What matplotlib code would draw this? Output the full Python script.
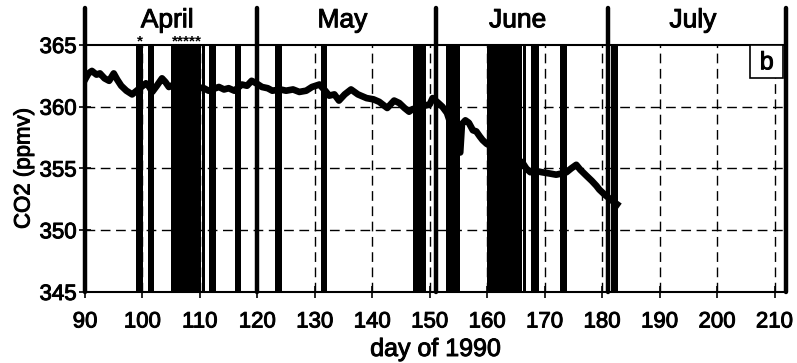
import matplotlib
matplotlib.use("Agg")
import matplotlib.pyplot as plt
import matplotlib.patheffects as pe
from matplotlib.patches import Rectangle

plt.rcParams['font.family'] = ['Liberation Sans', 'DejaVu Sans']

# ---- data ----
days = [90.0, 90.6, 91.2, 92.0, 92.6, 93.4, 94.2, 95.0, 95.6, 96.3, 97.2, 98.2, 99.0,
        100.6, 101.2, 101.7, 102.5, 103.4, 104.0, 104.6, 105.5, 110.7, 111.5, 113.3,
        114.2, 115.0, 116.0, 117.3, 118.2, 119.0, 119.8, 120.8, 121.8, 122.6, 124.0,
        125.0, 126.2, 127.3, 128.5, 129.5, 130.8, 131.8, 132.5, 133.4, 134.2, 135.2,
        136.3, 137.5, 139.0, 140.2, 141.2, 142.6, 143.8, 144.7, 145.6, 146.4, 147.0,
        150.0, 150.5, 151.5, 152.2, 153.0, 155.3, 155.6, 156.2, 156.8, 157.5, 158.1,
        158.7, 159.2, 159.9, 166.1, 166.8, 167.5, 168.5, 169.5, 170.8, 172.0, 173.0,
        173.8, 174.6, 175.5, 176.2, 177.3, 178.2, 179.0, 179.5, 180.4, 181.2, 182.0,
        182.6]
co2 = [362.2, 362.7, 362.9, 362.6, 362.7, 362.3, 362.1, 362.7, 362.2, 361.7, 361.3, 361.0,
       361.3, 361.9, 361.6, 361.2, 361.7, 362.3, 362.0, 361.6, 361.8, 361.5, 361.3, 361.6,
       361.4, 361.5, 361.3, 361.8, 361.7, 362.1, 361.9, 361.6, 361.5, 361.3, 361.4, 361.3,
       361.4, 361.2, 361.3, 361.6, 361.8, 361.3, 360.9, 361.0, 360.5, 361.0, 361.4, 361.0,
       360.7, 360.6, 360.4, 359.9, 360.5, 360.3, 359.9, 359.6, 359.8, 360.2, 360.7, 360.3,
       360.0, 359.5, 356.3, 358.6, 358.9, 358.7, 358.1, 358.0, 357.6, 357.3, 357.0, 355.5,
       355.0, 354.7, 354.8, 354.7, 354.6, 354.5, 354.6, 354.7, 355.0, 355.3, 354.9, 354.4,
       354.0, 353.6, 353.3, 352.9, 352.6, 352.3, 352.1]

bar_start = [98.9, 100.9, 105.0, 110.4, 111.6, 116.1, 123.1, 131.0, 147.0, 152.9,
             159.9, 166.2, 167.6, 172.7, 181.6]
bar_end = [100.1, 102.0, 110.2, 110.9, 112.8, 117.2, 124.2, 132.2, 149.3, 155.2,
           166.0, 166.7, 169.0, 173.8, 182.8]

month_bounds = [90, 120, 151, 181, 212]
month_names = ["April", "May", "June", "July"]
star_days = [99.5, 105.6, 106.6, 107.6, 108.6, 109.6]

xticks = list(range(90, 211, 10))
yticks = [345, 350, 355, 360, 365]

# ---- figure ----
fig = plt.figure(figsize=(7.97, 3.63), dpi=100)
ax = fig.add_axes([85/797, 1-292/363, (786-85)/797, (292-45)/363])
ax.set_xlim(90, 212)
ax.set_ylim(345, 365)

bold = [pe.withStroke(linewidth=0.7, foreground='black')]

ax.set_xticks(xticks)
ax.set_yticks(yticks)
ax.tick_params(direction='inout', length=8, width=1.2, labelsize=16, colors='black')
ax.tick_params(axis='x', pad=10)
ax.tick_params(axis='y', pad=2)
for lab in ax.get_xticklabels() + ax.get_yticklabels():
    lab.set_path_effects(bold)
for s in ax.spines.values():
    s.set_linewidth(1.5)
    s.set_color('black')

for xv in xticks[1:]:
    ax.axvline(xv, color='black', lw=1.0, ls=(0, (7, 4)), zorder=1)
for yv in yticks[1:-1]:
    ax.axhline(yv, color='black', lw=1.0, ls=(0, (7, 4)), zorder=1)

for a, b in zip(bar_start, bar_end):
    ax.axvspan(a, b, color='black', lw=0, zorder=2)

ax.plot(days, co2, color='black', lw=4.8, solid_joinstyle='round', zorder=3)

trans = ax.get_xaxis_transform()
for m in month_bounds:
    ax.plot([m, m], [0, 1.15], transform=trans, color='black', lw=3.2,
            clip_on=False, zorder=4, solid_capstyle='round')
for i, name in enumerate(month_names):
    ax.text((month_bounds[i] + month_bounds[i+1]) / 2 - 0.7, 1.1, name, transform=trans,
            ha='center', va='center', fontsize=19, path_effects=bold)

for sd in star_days:
    ax.text(sd, 1.015, '*', transform=trans, ha='center', va='center', fontsize=11,
            fontweight='bold', clip_on=False)

ax.add_patch(Rectangle((0.949, 0.866), 0.047, 0.134, transform=ax.transAxes,
                       facecolor='white', edgecolor='black', lw=1.2, zorder=5))
ax.text(0.9725, 0.93, 'b', transform=ax.transAxes, ha='center', va='center',
        fontsize=18, zorder=6, path_effects=bold)

ax.set_xlabel('day of 1990', fontsize=18, path_effects=bold)
ax.xaxis.label.set_verticalalignment('center')
ax.xaxis.set_label_coords(0.5, (292 - 349) / 247)
ax.set_ylabel('CO2 (ppmv)', fontsize=16, path_effects=bold)
ax.yaxis.label.set_verticalalignment('center')
ax.yaxis.set_label_coords((24 - 85) / 701, 0.5)

fig.savefig('out.png', dpi=100)
